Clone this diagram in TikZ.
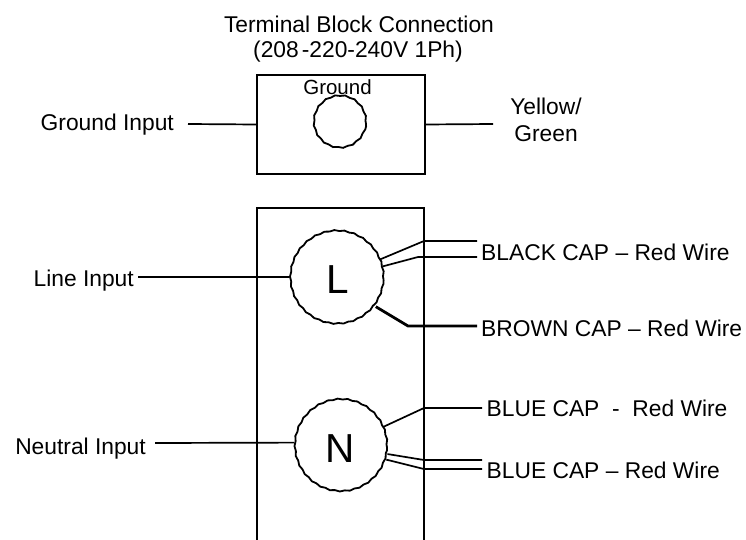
\documentclass[tikz,border=0pt]{standalone}
\usepackage{fontspec}
\setmainfont{Liberation Sans}
\usetikzlibrary{decorations.pathmorphing}
\begin{document}
\begin{tikzpicture}[x=1pt,y=-1pt,
  lbl/.style={font=\fontsize{22.8}{26}\selectfont, inner sep=0pt},
  letter/.style={font=\fontsize{40.5}{44}\selectfont, inner sep=0pt, anchor=base},
  wire/.style={line width=1.7pt},
  brownwire/.style={line width=2.8pt},
  frame/.style={draw, line width=1.9pt},
  term/.style={circle, draw, line width=1.8pt, inner sep=0pt,
    decorate, decoration={snake, amplitude=0.5pt, segment length=10pt}}]
\useasboundingbox (0,0) rectangle (746,540);

% title
\node[lbl, anchor=base] (t1) at (359,33) {Terminal Block Connection};
\node[lbl, anchor=base] (t2) at (358,58) {(208\kern3pt-220-240V 1Ph)};

% ground terminal block
\node[frame, minimum width=168pt, minimum height=99pt, inner sep=0pt] (tb) at (341,124.5) {};
\node[term, minimum size=52pt] (G) at (340,124) {};
\node[lbl, font=\fontsize{20.5}{24}\selectfont, anchor=base] (gtxt) at (337.5,95) {Ground};

\node[lbl, anchor=base east] (gin) at (174,131) {Ground Input};
\coordinate (ginEnd) at (188,124);
\draw[wire] (ginEnd) -- (tb.west);

\coordinate (ygEnd) at (493,124);
\draw[wire] (tb.east) -- (ygEnd);
\node[lbl, anchor=base] (yg1) at (546,115) {Yellow/};
\node[lbl, anchor=base] (yg2) at (546,142) {Green};

% lower block
\draw[line width=1.9pt] (257,560) -- (257,208) -- (424,208) -- (424,560);

\node[term, minimum size=93pt] (L) at (337,279.5) {};
\node[letter] (Ltxt) at (338,293) {L};
\node[term, minimum size=92pt] (N) at (341,447.5) {};
\node[letter] (Ntxt) at (340,462) {N};

% left labels
\node[lbl, anchor=base east] (lin) at (134,286) {Line Input};
\coordinate (linEnd) at (138,277);
\draw[wire] (linEnd) -- (L.177);

\node[lbl, anchor=base east] (nin) at (146,454) {Neutral Input};
\coordinate (ninEnd) at (155,443);
\draw[wire] (ninEnd) -- (N.174);

% right labels
\node[lbl, anchor=base west] (blk) at (481,260) {BLACK CAP – Red Wire};
\node[lbl, anchor=base west] (brn) at (481,336) {BROWN CAP – Red Wire};
\node[lbl, anchor=base west] (blu1) at (486.5,416) {BLUE CAP\ \ -\ \ Red Wire};
\node[lbl, anchor=base west] (blu2) at (486.5,478) {BLUE CAP – Red Wire};

\coordinate (blkA) at (477,241);
\coordinate (blkB) at (477,257);
\coordinate (brnE) at (477,326);
\coordinate (bluA) at (482,408);
\coordinate (bluB) at (482,460);
\coordinate (bluC) at (482,469);

\draw[wire] (L.25) -- (424,241) -- (blkA);
\draw[wire] (L.16.5) -- (418,257) -- (blkB);
\draw[brownwire] (L.-35) -- (408,326) -- (brnE);
\draw[wire] (N.26) -- (424,408) -- (bluA);
\draw[wire] (N.-8) -- (424,460) -- (bluB);
\draw[wire] (N.-15.5) -- (424,469) -- (bluC);
\end{tikzpicture}
\end{document}
